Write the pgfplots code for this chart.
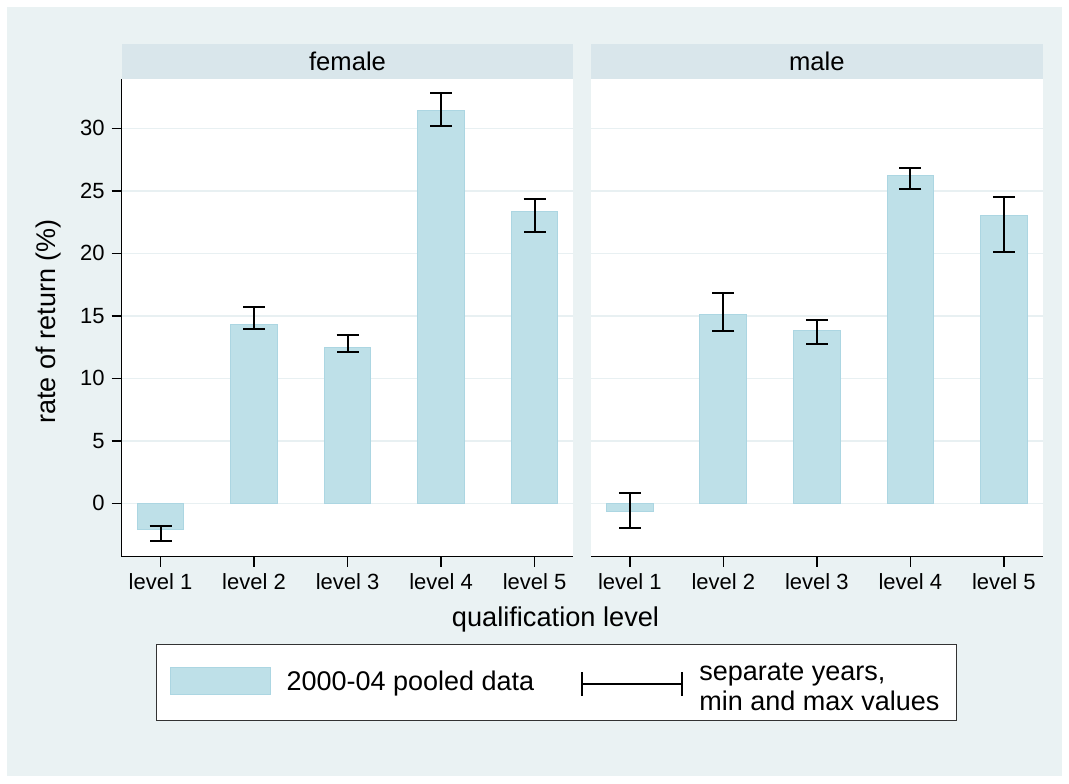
\documentclass[border=0pt]{standalone}
\usepackage{pgfplots}
\usepackage{pgfplotstable}
\pgfplotsset{compat=1.18}
\usepackage{fontspec}
\setmainfont{Liberation Sans}
\definecolor{bgcol}{RGB}{234,242,243}
\definecolor{stripcol}{RGB}{217,230,235}
\definecolor{barcol}{RGB}{190,224,232}
\definecolor{barborder}{RGB}{172,214,226}
\definecolor{gridcol}{RGB}{232,240,242}

\pgfplotstableread{
x y lo hi
1 -2.08 -3.04 -1.84
2 14.32 13.92 15.73
3 12.50 12.10 13.47
4 31.41 30.18 32.80
5 23.36 21.70 24.34
}\female
\pgfplotstableread{
x y lo hi
1 -0.67 -1.98 0.85
2 15.14 13.78 16.82
3 13.84 12.72 14.66
4 26.21 25.17 26.85
5 23.04 20.10 24.53
}\male

\pgfplotsset{panel/.style={
  scale only axis, width=225.85pt, height=238.7pt,
  anchor=south west,
  xmin=0.585, xmax=5.415, ymin=-4.27, ymax=33.92,
  xtick={1,2,3,4,5},
  xticklabels={level 1,level 2,level 3,level 4,level 5},
  ytick={0,5,10,15,20,25,30},
  ymajorgrids, grid style={gridcol, line width=0.8pt},
  axis background/.style={fill=white},
  axis x line*=bottom, axis y line*=left,
  tick align=outside, major tick length=5pt,
  tick style={black, line width=0.7pt},
  axis line style={black, line width=0.7pt, -},
  ticklabel style={font=\fontsize{11}{13}\selectfont},
  /pgf/number format/assume math mode=true,
  ybar, bar width=0.5, bar shift=0pt,
  every axis title shift=0pt,
  title style={at={(0.5,1)}, anchor=south, fill=stripcol,
    minimum width=225.85pt, minimum height=17.5pt, inner sep=0pt,
    font=\fontsize{12.8}{14}\selectfont},
  clip=false,
}}
\pgfplotsset{barplot/.style={
  fill=barcol, draw=barborder, line width=0.5pt,
  error bars/y dir=both, error bars/y explicit,
  error bars/error bar style={black, line width=1pt},
  error bars/error mark options={rotate=90, mark size=5.5pt, line width=1pt, black},
}}

\begin{document}
\begin{tikzpicture}
\fill[white] (0,0) rectangle (534.5pt,391.5pt);
\fill[bgcol] (3.5pt,3.5pt) rectangle (531pt,388pt);

\begin{axis}[panel, at={(60.85pt,113.15pt)},
  title={female},
  xlabel={qualification level},
  xlabel style={at={(axis description cs:0.9604,-0.1305)}, anchor=center,
    font=\fontsize{13.6}{15}\selectfont},
  ylabel={rate of return (\%)},
  ylabel style={at={(axis description cs:-0.163,0.4927)}, anchor=center,
    font=\fontsize{13.5}{15}\selectfont},
  legend columns=2,
  legend style={at={(axis description cs:0.9626,-0.2635)}, anchor=center,
    draw=black!80, line width=0.6pt, fill=white,
    font=\fontsize{13.5}{15}\selectfont,
    inner xsep=6.5pt, inner ysep=5.5pt,
    /tikz/every odd column/.append style={column sep=6pt},
    /tikz/every even column/.append style={column sep=21.5pt}},
  legend cell align=left,
]
\addplot[forget plot, barplot] table[x=x, y=y,
  y error plus expr=\thisrow{hi}-\thisrow{y},
  y error minus expr=\thisrow{y}-\thisrow{lo}] {\female};
\addlegendimage{legend image code/.code={\draw[fill=barcol, draw=barborder, line width=0.5pt] (0pt,-5.75pt) rectangle (50pt,7.75pt);}}
\addlegendentry{2000-04 pooled data}
\addlegendimage{legend image code/.code={\draw[black, line width=1pt] (0pt,-0.5pt)--(50pt,-0.5pt) (0pt,-6.5pt)--(0pt,5.5pt) (50pt,-6.5pt)--(50pt,5.5pt);}}
\addlegendentry{\raisebox{3pt}{\begin{tabular}[c]{@{}l@{}}separate years,\\min and max values\end{tabular}}}
\end{axis}

\begin{axis}[panel, at={(295.5pt,113.15pt)},
  title={male},
  y axis line style={draw=none},
  ytick style={draw=none},
  yticklabels={},
]
\addplot[barplot] table[x=x, y=y,
  y error plus expr=\thisrow{hi}-\thisrow{y},
  y error minus expr=\thisrow{y}-\thisrow{lo}] {\male};
\end{axis}

\pgfresetboundingbox
\useasboundingbox (0,0) rectangle (534.5pt,391.5pt);
\end{tikzpicture}
\end{document}
